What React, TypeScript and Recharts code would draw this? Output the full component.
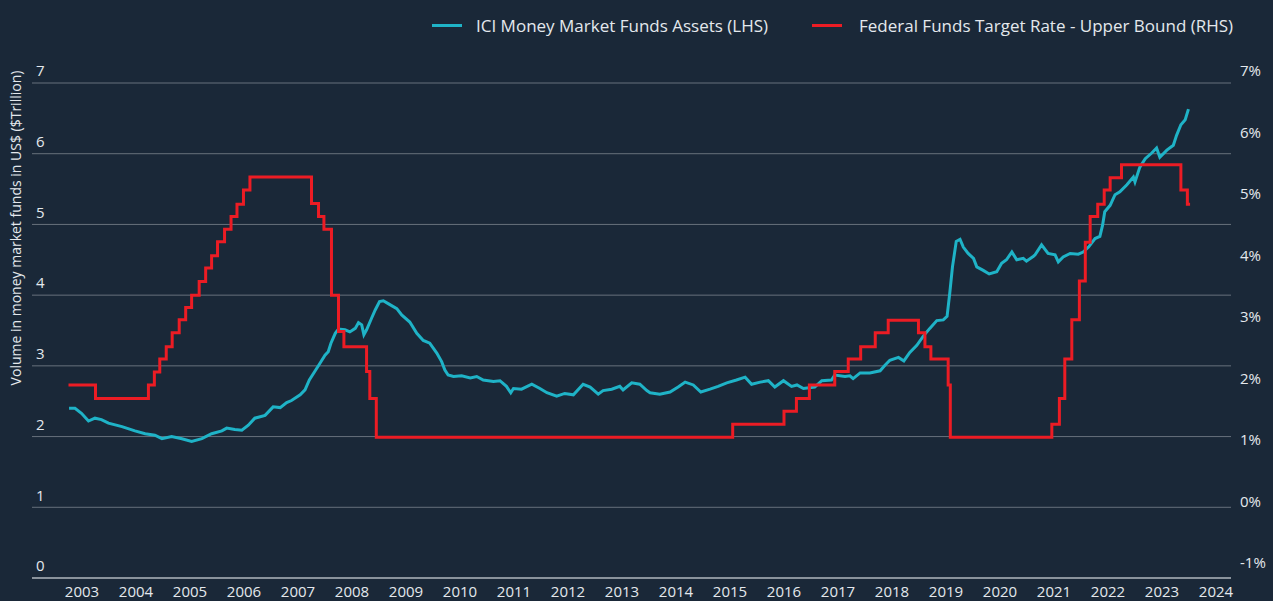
import React from 'react'
import { LineChart, Line, XAxis, YAxis, CartesianGrid, Label } from 'recharts'

const years = [2003, 2004, 2005, 2006, 2007, 2008, 2009, 2010, 2011, 2012, 2013, 2014, 2015, 2016, 2017, 2018, 2019, 2020, 2021, 2022, 2023, 2024]
const leftTicks = [0, 1, 2, 3, 4, 5, 6, 7]
const rightTicks = [-1, 0, 1, 2, 3, 4, 5, 6, 7]

// ICI money market fund assets, $ trillion
const mmfDates = [
  2002.76, 2002.87, 2002.99, 2003.12, 2003.24, 2003.36, 2003.49, 2003.74, 2003.98, 2004.17,
  2004.35, 2004.48, 2004.66, 2004.85, 2005.03, 2005.22, 2005.40, 2005.59, 2005.68, 2005.83,
  2005.96, 2006.08, 2006.20, 2006.39, 2006.54, 2006.67, 2006.79, 2006.88, 2007.04, 2007.13,
  2007.21, 2007.31, 2007.41, 2007.50, 2007.56, 2007.61, 2007.69, 2007.75, 2007.87, 2007.96,
  2008.06, 2008.12, 2008.18, 2008.22, 2008.27, 2008.36, 2008.43, 2008.51, 2008.58, 2008.67,
  2008.83, 2008.92, 2009.07, 2009.20, 2009.32, 2009.44, 2009.57, 2009.66, 2009.72, 2009.78,
  2009.88, 2010.03, 2010.19, 2010.31, 2010.43, 2010.62, 2010.74, 2010.86, 2010.94, 2010.99,
  2011.14, 2011.33, 2011.48, 2011.61, 2011.79, 2011.94, 2012.10, 2012.28, 2012.41, 2012.56,
  2012.65, 2012.81, 2012.96, 2013.02, 2013.18, 2013.33, 2013.46, 2013.52, 2013.70, 2013.89,
  2014.04, 2014.17, 2014.32, 2014.46, 2014.63, 2014.78, 2014.94, 2015.12, 2015.28, 2015.40,
  2015.56, 2015.71, 2015.83, 2015.99, 2016.14, 2016.24, 2016.36, 2016.57, 2016.70, 2016.88,
  2016.94, 2017.13, 2017.22, 2017.28, 2017.41, 2017.59, 2017.78, 2017.87, 2017.96, 2018.12,
  2018.22, 2018.33, 2018.46, 2018.58, 2018.70, 2018.83, 2018.95, 2019.02, 2019.07, 2019.12,
  2019.19, 2019.26, 2019.32, 2019.41, 2019.51, 2019.57, 2019.69, 2019.80, 2019.94, 2020.03,
  2020.12, 2020.22, 2020.31, 2020.43, 2020.49, 2020.62, 2020.65, 2020.77, 2020.89, 2021.02,
  2021.08, 2021.17, 2021.30, 2021.45, 2021.54, 2021.64, 2021.76, 2021.85, 2021.90, 2021.94,
  2022.04, 2022.13, 2022.22, 2022.35, 2022.47, 2022.50, 2022.59, 2022.69, 2022.81, 2022.90,
  2022.96, 2023.09, 2023.21, 2023.27, 2023.35, 2023.43, 2023.49,
]
const mmfAssets = [
  2.40, 2.40, 2.33, 2.22, 2.26, 2.24, 2.19, 2.14, 2.08, 2.04,
  2.02, 1.97, 2.00, 1.97, 1.93, 1.97, 2.04, 2.08, 2.12, 2.10,
  2.09, 2.16, 2.26, 2.30, 2.42, 2.41, 2.48, 2.51, 2.59, 2.66,
  2.80, 2.92, 3.04, 3.15, 3.20, 3.32, 3.46, 3.52, 3.51, 3.48,
  3.53, 3.61, 3.58, 3.44, 3.51, 3.67, 3.79, 3.91, 3.92, 3.88,
  3.81, 3.72, 3.62, 3.46, 3.36, 3.32, 3.18, 3.06, 2.94, 2.87,
  2.85, 2.86, 2.83, 2.85, 2.80, 2.78, 2.79, 2.71, 2.62, 2.68,
  2.67, 2.74, 2.68, 2.62, 2.57, 2.61, 2.59, 2.74, 2.70, 2.60,
  2.65, 2.67, 2.71, 2.66, 2.76, 2.74, 2.65, 2.62, 2.60, 2.63,
  2.70, 2.77, 2.73, 2.63, 2.67, 2.71, 2.76, 2.80, 2.84, 2.74,
  2.77, 2.79, 2.70, 2.79, 2.71, 2.73, 2.68, 2.70, 2.79, 2.80,
  2.87, 2.85, 2.86, 2.82, 2.90, 2.90, 2.93, 3.01, 3.08, 3.12,
  3.07, 3.19, 3.29, 3.42, 3.53, 3.64, 3.65, 3.70, 4.03, 4.40,
  4.76, 4.79, 4.68, 4.59, 4.52, 4.40, 4.35, 4.30, 4.33, 4.45,
  4.50, 4.61, 4.50, 4.52, 4.48, 4.55, 4.57, 4.71, 4.59, 4.57,
  4.47, 4.54, 4.59, 4.58, 4.61, 4.68, 4.80, 4.83, 4.99, 5.18,
  5.27, 5.42, 5.46, 5.56, 5.67, 5.60, 5.81, 5.93, 6.01, 6.08,
  5.95, 6.05, 6.12, 6.26, 6.41, 6.48, 6.63,
]

// Federal funds target rate, upper bound, % (change points)
const fedDates = [
  2002.75, 2003.25, 2004.23, 2004.34, 2004.44, 2004.56, 2004.67, 2004.80, 2004.92, 2005.03,
  2005.17, 2005.29, 2005.40, 2005.51, 2005.64, 2005.76, 2005.87, 2005.99, 2006.11, 2007.25,
  2007.38, 2007.48, 2007.62, 2007.75, 2007.85, 2008.27, 2008.33, 2008.45, 2015.05, 2016.00,
  2016.23, 2016.47, 2016.94, 2017.19, 2017.42, 2017.69, 2017.93, 2018.49, 2018.61, 2018.72,
  2019.04, 2019.08, 2020.96, 2021.10, 2021.20, 2021.33, 2021.47, 2021.58, 2021.67, 2021.81,
  2021.93, 2022.04, 2022.25, 2023.35, 2023.47, 2023.52,
]
const fedRate = [
  2.09, 1.87, 2.09, 2.30, 2.51, 2.71, 2.94, 3.15, 3.35, 3.55,
  3.77, 3.99, 4.19, 4.42, 4.62, 4.83, 5.03, 5.26, 5.47, 5.04,
  4.83, 4.62, 3.55, 2.96, 2.71, 2.31, 1.87, 1.24, 1.45, 1.66,
  1.87, 2.09, 2.31, 2.51, 2.71, 2.94, 3.14, 2.94, 2.71, 2.51,
  2.09, 1.24, 1.45, 1.87, 2.51, 3.15, 3.78, 4.41, 4.83, 5.03,
  5.26, 5.46, 5.67, 5.26, 5.03, 5.03,
]

const mmfData = mmfDates.map((t, i) => ({ t, assets: mmfAssets[i] }))
const fedData = fedDates.map((t, i) => ({ t, rate: fedRate[i] }))

const BG = '#1a2838'
const TEXT = '#e4e8ed'
const GRID = '#67717c'
const BLUE = '#1fb3c7'
const RED = '#ec1c24'
const FONT = "'Open Sans', sans-serif"

const LeftTick = ({ y, payload }: any) => (
  <text x={36} y={y - 12} dy="0.35em" fill={TEXT} fontSize={15} fontFamily={FONT} textAnchor="start">
    {payload.value}
  </text>
)

const RightTick = ({ y, payload }: any) => (
  <text x={1240} y={y - 12} dy="0.35em" fill={TEXT} fontSize={15} fontFamily={FONT} textAnchor="start">
    {payload.value + '%'}
  </text>
)

const YearTick = ({ x, payload }: any) => (
  <text x={x} y={592} dy="0.35em" fill={TEXT} fontSize={15} fontFamily={FONT} textAnchor="middle">
    {payload.value}
  </text>
)

const YTitle = () => (
  <text
    x={16}
    y={228}
    transform="rotate(-90 16 228)"
    dy="0.35em"
    fill={TEXT}
    fontSize={14}
    fontFamily={FONT}
    textAnchor="middle"
  >
    Volume in money market funds in US$ ($Trillion)
  </text>
)

function LegendItem({ left, gap, color, text }: { left: number; gap: number; color: string; text: string }) {
  return (
    <div style={{ position: 'absolute', left, top: 13, height: 24, display: 'flex', alignItems: 'center' }}>
      <div style={{ width: 30, height: 3, background: color, marginRight: gap }} />
      <span style={{ color: TEXT, fontSize: 17, fontFamily: FONT, whiteSpace: 'nowrap' }}>{text}</span>
    </div>
  )
}

export default function App() {
  return (
    <div style={{ position: 'relative', width: 1273, height: 601, background: BG, overflow: 'hidden' }}>
      <style>{'body{margin:0;background:' + BG + '}'}</style>
      <LegendItem left={432} gap={14} color={BLUE} text="ICI Money Market Funds Assets (LHS)" />
      <LegendItem left={812} gap={17} color={RED} text="Federal Funds Target Rate - Upper Bound (RHS)" />
      <LineChart width={1273} height={601} margin={{ top: 83, right: 0, bottom: 0, left: 0 }}>
        <CartesianGrid yAxisId="left" vertical={false} stroke={GRID} strokeWidth={1} />
        <XAxis
          dataKey="t"
          type="number"
          domain={[2002.074, 2024.278]}
          ticks={years}
          allowDataOverflow
          height={23}
          tickLine={false}
          axisLine={{ stroke: '#8a939c', strokeWidth: 2 }}
          tick={<YearTick />}
          interval={0}
        />
        <YAxis
          yAxisId="left"
          domain={[0, 7]}
          ticks={leftTicks}
          width={32}
          axisLine={false}
          tickLine={false}
          tick={<LeftTick />}
          interval={0}
          allowDataOverflow
        >
          <Label content={<YTitle />} />
        </YAxis>
        <YAxis
          yAxisId="right"
          orientation="right"
          domain={[-1.05, 7]}
          ticks={rightTicks}
          width={42}
          axisLine={false}
          tickLine={false}
          tick={<RightTick />}
          interval={0}
          allowDataOverflow
        />
        <Line
          yAxisId="left"
          data={mmfData}
          dataKey="assets"
          type="linear"
          stroke={BLUE}
          strokeWidth={3}
          dot={false}
          isAnimationActive={false}
        />
        <Line
          yAxisId="right"
          data={fedData}
          dataKey="rate"
          type="stepAfter"
          stroke={RED}
          strokeWidth={3}
          dot={false}
          isAnimationActive={false}
        />
      </LineChart>
    </div>
  )
}
